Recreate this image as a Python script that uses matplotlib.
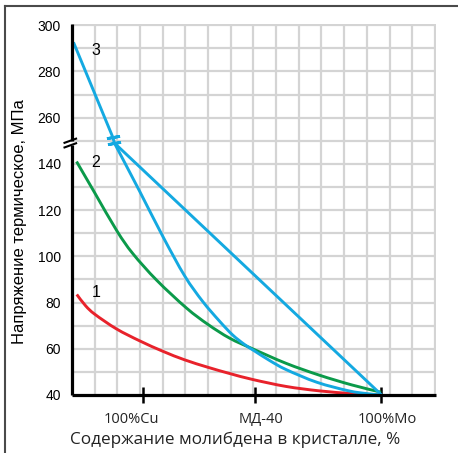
import matplotlib
matplotlib.use("Agg")
import matplotlib.pyplot as plt
from matplotlib.lines import Line2D
from matplotlib.path import Path
from matplotlib.patches import PathPatch

# curve 1 (red) and curve 2 (green), x in grid units, stress in MPa
x1 = [0.21, 0.6, 1.01, 1.96, 2.99, 4.01, 4.97, 5.99, 6.95, 7.97, 9.44, 10.9, 12.36, 13.6]
y1 = [83.5, 78.6, 74.9, 68.6, 63.4, 58.9, 55.2, 52.0, 49.3, 46.7, 43.7, 41.8, 40.6, 40.0]

x2 = [0.2, 1.0, 1.98, 2.68, 3.74, 5.05, 6.0, 6.95, 7.96, 9.44, 10.9, 12.36, 13.63]
y2 = [141, 127.5, 111, 101.2, 89.6, 77.6, 70.5, 64.6, 60.0, 53.7, 48.6, 44.3, 41.2]

# curve 3 (blue): upper part above the axis break, then two branches
x3_top = [0.09, 1.8]
y3_top = [292, 251.5]
x3_curve = [1.87, 2.99, 4.01, 4.97, 5.76, 6.5, 7.08, 7.6, 8.04, 8.7, 9.44, 10.8, 12.2, 13.0, 13.63]
y3_curve = [149, 128, 108.5, 91.5, 80.5, 72, 66, 61.9, 59.1, 55.0, 51.0, 45.5, 41.8, 40.6, 40.0]
x3_line = [1.87, 13.63]
y3_line = [149, 40.2]

y_ticks = [40, 60, 80, 100, 120, 140, 260, 280, 300]
x_ticks = [3.11, 8.07, 13.64]
x_tick_labels = ["100%Cu", "МД-40", "100%Mo"]

RED = "#e8222b"
GREEN = "#0b9a4a"
BLUE = "#14a9e1"
GRID = "#d4d4d4"


def brk(v):
    # values above the break are shifted down by 100 MPa (150 -> 250 skipped)
    return v - 100 if v >= 250 else v


def smooth_path(xs, ys):
    # Catmull-Rom through the read points, drawn as cubic Bezier pieces
    pts = list(zip(xs, ys))
    verts = [pts[0]]
    codes = [Path.MOVETO]
    n = len(pts)
    for i in range(n - 1):
        p0 = pts[i - 1] if i > 0 else pts[i]
        p1 = pts[i]
        p2 = pts[i + 1]
        p3 = pts[i + 2] if i + 2 < n else pts[i + 1]
        c1 = (p1[0] + (p2[0] - p0[0]) / 6, p1[1] + (p2[1] - p0[1]) / 6)
        c2 = (p2[0] - (p3[0] - p1[0]) / 6, p2[1] - (p3[1] - p1[1]) / 6)
        verts += [c1, c2, p2]
        codes += [Path.CURVE4] * 3
    return Path(verts, codes)


def draw_curve(ax, xs, ys, color, z=3):
    patch = PathPatch(smooth_path(xs, ys), facecolor="none", edgecolor=color,
                      lw=2.1, zorder=z, capstyle="butt")
    ax.add_patch(patch)


fig = plt.figure(figsize=(4.58, 4.53), dpi=100)
ax = fig.add_axes([72 / 458, 58 / 453, 364 / 458, 371 / 453])

ax.set_xlim(0, 16.05)
ax.set_ylim(40, 200.5)

# grid
for gx in range(1, 17):
    ax.axvline(gx, color=GRID, lw=1.6, zorder=0)
for gy in range(50, 201, 10):
    ax.axhline(gy, color=GRID, lw=1.6, zorder=0)

draw_curve(ax, x1, y1, RED)
draw_curve(ax, x2, y2, GREEN)
ax.plot(x3_top + x3_curve[:1], [brk(v) for v in y3_top] + y3_curve[:1], color=BLUE, lw=2.1, zorder=3)
draw_curve(ax, x3_curve, [brk(v) for v in y3_curve], BLUE, z=4)
ax.plot(x3_line, [brk(v) for v in y3_line], color=BLUE, lw=2.1, zorder=4)

# break marks on curve 3
ax.plot([x3_top[-1], x3_curve[0]], [brk(y3_top[-1]), y3_curve[0]], ls="none",
        marker=(2, 2, 100), ms=9.5, mew=2.0, mec=BLUE, zorder=5)

# curve numbers
ax.text(0.85, 189, "3", fontsize=11.5, family="Liberation Sans", va="center")
ax.text(0.85, 140.5, "2", fontsize=11.5, family="Liberation Sans", va="center")
ax.text(0.85, 84.5, "1", fontsize=11.5, family="Liberation Sans", va="center")

# axes lines
for s in ax.spines.values():
    s.set_visible(False)
ax.plot([0, 16.05], [40, 40], color="black", lw=2.3, clip_on=False, zorder=6, solid_capstyle="butt")
ax.plot([0, 0], [40, 148], color="black", lw=2.3, clip_on=False, zorder=6, solid_capstyle="butt")
ax.plot([0, 0], [150, 200.5], color="black", lw=2.3, clip_on=False, zorder=6, solid_capstyle="butt")
for c in (148.0, 150.0):
    ax.plot([-0.33, 0.18], [c - 0.9, c + 0.9], color="black", lw=1.5, clip_on=False, zorder=7)

# y ticks
ax.set_yticks([brk(v) for v in y_ticks])
ax.set_yticklabels([str(v) for v in y_ticks], fontsize=10, family="Liberation Sans")
ax.tick_params(axis="y", length=0, pad=8)

# x ticks
ax.set_xticks(x_ticks)
ax.set_xticklabels([])
ax.tick_params(axis="x", direction="inout", length=11, width=1.8, color="black")
label_shift = [-0.5, 0.26, 0.25]
for xt, lab, dx in zip(x_ticks, x_tick_labels, label_shift):
    ax.text(xt + dx, 29.5, lab, fontsize=10.5, family=["Open Sans", "DejaVu Sans"],
            ha="center", va="center", color="#222222")

fig.text(235.5 / 458, 1 - 440 / 453, "Содержание молибдена в кристалле, %", fontsize=12.3,
         family=["Open Sans", "DejaVu Sans"], ha="center", va="center", color="#222222")
fig.text(20 / 458, 1 - 222 / 453, "Напряжение термическое, МПа", fontsize=12,
         family="Liberation Sans", rotation=90, ha="center", va="center")

# outer frame (top and left edges)
fig.add_artist(Line2D([5 / 458, 1], [1 - 6 / 453, 1 - 6 / 453], color="#4a4a4a", lw=1.5))
fig.add_artist(Line2D([5 / 458, 5 / 458], [0, 1 - 6 / 453], color="#4a4a4a", lw=1.5))

fig.savefig("out.png", dpi=100)
